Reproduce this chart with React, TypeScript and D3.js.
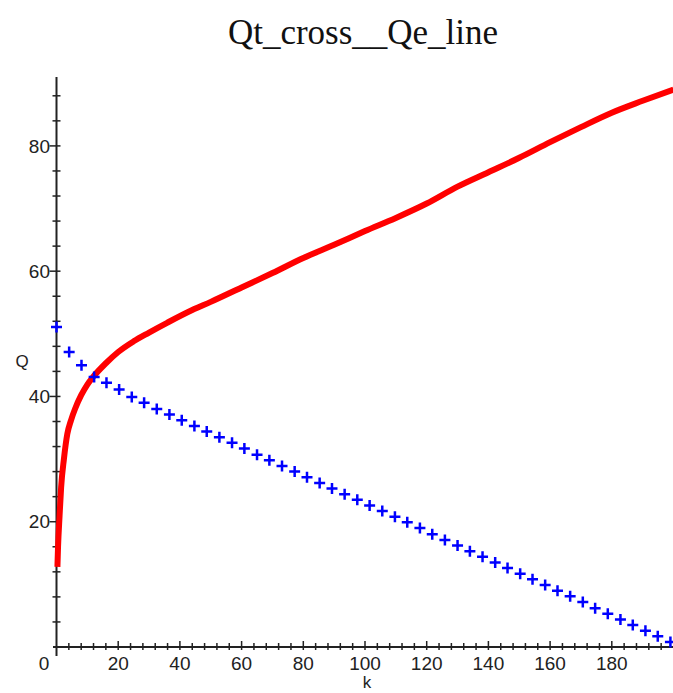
import React from "react";
import * as d3 from "d3";

const title = "Qt_cross__Qe_line";
const xLabel = "k";
const yLabel = "Q";

// Red curve (Qt)
const qtK = [0.3, 0.5, 1, 1.5, 2.4, 3.5, 4.7, 6, 8, 10, 12, 16, 20, 25, 30, 36, 44, 50, 60, 70, 80, 90, 100, 110, 120, 130, 140, 150, 160, 170, 180, 190, 200];
const qtQ = [12.8, 16, 21, 25.5, 30, 34, 36.2, 38, 40.2, 41.9, 43.2, 45.3, 47.1, 48.8, 50.2, 51.8, 53.8, 55.1, 57.4, 59.7, 62.1, 64.2, 66.4, 68.5, 70.8, 73.5, 75.8, 78.1, 80.6, 83, 85.3, 87.2, 89];

// Blue crosses (Qe)
const qeK = [0, 4.1, 8.1, 12.2, 16.2, 20.3, 24.4, 28.4, 32.5, 36.6, 40.6, 44.7, 48.7, 52.8, 56.9, 60.9, 65.0, 69.0, 73.1, 77.2, 81.2, 85.3, 89.3, 93.4, 97.5, 101.5, 105.6, 109.7, 113.7, 117.8, 121.8, 125.9, 130.0, 134.0, 138.1, 142.2, 146.2, 150.3, 154.3, 158.4, 162.4, 166.5, 170.6, 174.6, 178.7, 182.8, 186.8, 190.9, 194.9, 199];
const qeQ = [51.1, 47.1, 45.0, 43.1, 42.2, 41.1, 39.9, 39.0, 38.0, 37.1, 36.2, 35.3, 34.4, 33.5, 32.6, 31.7, 30.7, 29.8, 28.9, 28.0, 27.1, 26.2, 25.3, 24.4, 23.5, 22.6, 21.7, 20.8, 19.9, 19.0, 18.0, 17.1, 16.2, 15.3, 14.4, 13.5, 12.6, 11.7, 10.8, 9.9, 9.0, 8.1, 7.2, 6.2, 5.3, 4.4, 3.5, 2.6, 1.7, 0.8];

const xTickLabels = [20, 40, 60, 80, 100, 120, 140, 160, 180];
const yTickLabels = [20, 40, 60, 80];

export default function App() {
  const W = 673, H = 693;
  const x = d3.scaleLinear().domain([0, 200]).range([56.5, 673.5]);
  const y = d3.scaleLinear().domain([0, 91]).range([647, 77]);

  const line = d3
    .line<number>()
    .x((_, i) => x(qtK[i]))
    .y((d) => y(d))
    .curve(d3.curveMonotoneX);

  const xMinor = d3.range(4, 200, 4);
  const yMinor = d3.range(4, 90, 4);
  const axisColor = "#222";
  const font = "'Liberation Sans', Arial, sans-serif";
  const x0 = x(0), y0 = y(0);

  return (
    <svg width={W} height={H} style={{ position: "absolute", left: 0, top: 0, background: "#fff" }}>
      <rect width={W} height={H} fill="#fff" />
      <text x={363} y={44} textAnchor="middle" fontFamily="'Liberation Serif', 'Times New Roman', serif" fontSize={35} fill="#111">
        {title}
      </text>
      {/* axes */}
      <line x1={x0} x2={x0} y1={77} y2={656} stroke={axisColor} strokeWidth={2} />
      <line x1={53} x2={673} y1={y0} y2={y0} stroke={axisColor} strokeWidth={2} />
      {yMinor.map((v) => {
        const major = v % 20 === 0;
        return (
          <line key={"yt" + v} x1={major ? x0 - 7 : x0 - 4} x2={x0 + 4} y1={y(v)} y2={y(v)} stroke={axisColor} strokeWidth={1.5} />
        );
      })}
      {xMinor.map((v) => {
        const major = v % 20 === 0;
        return (
          <line key={"xt" + v} x1={x(v)} x2={x(v)} y1={major ? y0 - 6 : y0 - 4} y2={y0 + 3} stroke={axisColor} strokeWidth={1.5} />
        );
      })}
      {yTickLabels.map((v) => (
        <text key={"yl" + v} x={50} y={y(v)} dy="0.35em" textAnchor="end" fontFamily={font} fontSize={19} fill="#222">
          {v}
        </text>
      ))}
      {xTickLabels.map((v) => (
        <text key={"xl" + v} x={x(v)} y={670} textAnchor="middle" fontFamily={font} fontSize={19} fill="#222">
          {v}
        </text>
      ))}
      <text x={44} y={670} textAnchor="middle" fontFamily={font} fontSize={19} fill="#222">0</text>
      <text x={367} y={688} textAnchor="middle" fontFamily={font} fontSize={17} fill="#222">{xLabel}</text>
      <text x={22} y={367} textAnchor="middle" fontFamily={font} fontSize={17} fill="#222">{yLabel}</text>
      {/* red curve */}
      <path d={line(qtQ) || ""} fill="none" stroke="#ff0000" strokeWidth={6} strokeLinejoin="round" />
      {/* blue crosses */}
      {qeQ.map((q, i) => {
        const cx = x(qeK[i]), cy = y(q);
        return (
          <path key={"c" + i} d={`M${cx - 5.5},${cy}H${cx + 5.5}M${cx},${cy - 5.5}V${cy + 5.5}`} stroke="#0000ff" strokeWidth={2.5} fill="none" />
        );
      })}
    </svg>
  );
}
